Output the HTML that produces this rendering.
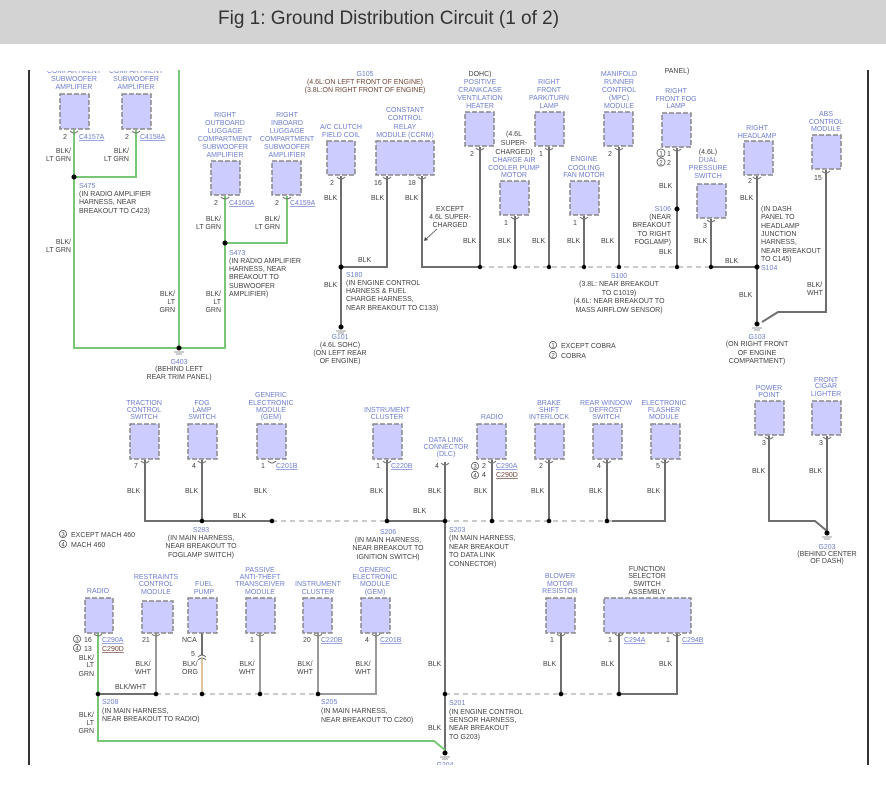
<!DOCTYPE html>
<html><head><meta charset="utf-8"><style>
body{margin:0;background:#fff;width:886px;height:790px;overflow:hidden}
svg{display:block}
text{font-family:"Liberation Sans",sans-serif;font-size:7px;fill:#444}
.c{fill:#6f7fcf}
.m{text-anchor:middle}
.e{text-anchor:end}
.u{fill:#6f7fcf;text-decoration:underline}
.bx{fill:#ccccff;stroke:#888;stroke-width:1.5;stroke-dasharray:5,2}
.w{stroke:#6e6e6e;stroke-width:2;fill:none}
.g{stroke:#77c777;stroke-width:2;fill:none}
.lw{stroke:#9a9a9a;stroke-width:2;fill:none}
.d{stroke:#aaa;stroke-width:1.2;stroke-dasharray:5,4;fill:none}
.p{stroke:#777;stroke-width:1;fill:none}
</style></head><body>
<svg width="886" height="790" viewBox="0 0 886 790">
<!-- top texts clipped -->
<text class="c m" x="74" y="73">COMPARTMENT</text>
<text class="c m" x="136" y="73">COMPARTMENT</text>
<rect x="0" y="44" width="886" height="27" fill="#fff"/>
<rect x="0" y="0" width="886" height="44" fill="#d3d3d3"/>
<text x="218" y="24" style="font-size:19px;fill:#333">Fig 1: Ground Distribution Circuit (1 of 2)</text>
<line x1="29" y1="70" x2="29" y2="765" stroke="#333" stroke-width="2"/>
<line x1="868" y1="70" x2="868" y2="765" stroke="#333" stroke-width="2"/>

<path class="g" d="M74 130V348H179M136 130V177H74M179 70V348M225 196V348H179M287 196V243H225"/>
<path class="w" d="M341 176V327M387 176V267H341M422 176V267H480M711 267H757M757 176V324M826 170V312H778L762 322"/>
<path class="d" d="M480 267H711"/>
<path class="w" d="M480 147V267M515 216V267M549 147V267M584 216V267M619 147V267M677 148V267M711 219V267"/>
<rect class="bx" x="60" y="94" width="29" height="35"/>
<rect class="bx" x="122" y="94" width="29" height="35"/>
<rect class="bx" x="211" y="161" width="29" height="34"/>
<rect class="bx" x="272" y="161" width="29" height="34"/>
<rect class="bx" x="327" y="141" width="28" height="34"/>
<rect class="bx" x="376" y="141" width="58" height="34"/>
<rect class="bx" x="465" y="112" width="29" height="34"/>
<rect class="bx" x="500" y="181" width="29" height="34"/>
<rect class="bx" x="535" y="112" width="29" height="34"/>
<rect class="bx" x="570" y="181" width="29" height="34"/>
<rect class="bx" x="604" y="112" width="29" height="34"/>
<rect class="bx" x="662" y="113" width="29" height="34"/>
<rect class="bx" x="697" y="184" width="29" height="34"/>
<rect class="bx" x="744" y="141" width="29" height="34"/>
<rect class="bx" x="812" y="135" width="29" height="34"/>
<g class="p">
<path d="M70 131q4 4 8 0M132 131q4 4 8 0M221 197q4 4 8 0M283 197q4 4 8 0M337 177q4 4 8 0M383 177q4 4 8 0M418 177q4 4 8 0M476 148q4 4 8 0M511 217q4 4 8 0M545 148q4 4 8 0M580 217q4 4 8 0M615 148q4 4 8 0M673 149q4 4 8 0M707 220q4 4 8 0M753 177q4 4 8 0M822 171q4 4 8 0"/>
</g>
<g fill="#000">
<circle cx="74" cy="177" r="2.5"/><circle cx="225" cy="243" r="2.5"/><circle cx="179" cy="348" r="2.5"/>
<circle cx="341" cy="267" r="2.5"/><circle cx="341" cy="327" r="2.5"/>
<circle cx="480" cy="267" r="2.2"/><circle cx="515" cy="267" r="2.2"/><circle cx="549" cy="267" r="2.2"/><circle cx="584" cy="267" r="2.2"/><circle cx="619" cy="267" r="2.2"/><circle cx="677" cy="267" r="2.2"/><circle cx="711" cy="267" r="2.2"/><circle cx="757" cy="267" r="2.5"/><circle cx="677" cy="209" r="2.5"/><circle cx="757" cy="324" r="2.5"/>
</g>
<g stroke="#999" stroke-width="1"><path d="M174 352h10M176 354h6M336 331h10M338 333h6M752 328h10M754 330h6"/></g>

<text class="c m" x="74" y="81">SUBWOOFER</text><text class="c m" x="74" y="89">AMPLIFIER</text>
<text class="c m" x="136" y="81">SUBWOOFER</text><text class="c m" x="136" y="89">AMPLIFIER</text>
<text x="63" y="139">2</text><text class="u" x="79" y="139">C4157A</text>
<text x="125" y="139">2</text><text class="u" x="140" y="139">C4158A</text>
<text class="e" x="71" y="153">BLK/</text><text class="e" x="71" y="161">LT GRN</text>
<text class="e" x="129" y="153">BLK/</text><text class="e" x="129" y="161">LT GRN</text>
<text class="c" x="79" y="188">S475</text><text x="79" y="196">(IN RADIO AMPLIFIER</text><text x="79" y="204">HARNESS, NEAR</text><text x="79" y="213">BREAKOUT TO C423)</text>
<text class="e" x="71" y="244">BLK/</text><text class="e" x="71" y="252">LT GRN</text>
<text class="e" x="175" y="296">BLK/</text><text class="e" x="175" y="304">LT</text><text class="e" x="175" y="312">GRN</text>
<text class="e" x="221" y="296">BLK/</text><text class="e" x="221" y="304">LT</text><text class="e" x="221" y="312">GRN</text>
<text class="c m" x="179" y="364">G403</text><text class="m" x="179" y="371">(BEHIND LEFT</text><text class="m" x="179" y="379">REAR TRIM PANEL)</text>
<text class="c m" x="225" y="117">RIGHT</text><text class="c m" x="225" y="125">OUTBOARD</text><text class="c m" x="225" y="133">LUGGAGE</text><text class="c m" x="225" y="141">COMPARTMENT</text><text class="c m" x="225" y="149">SUBWOOFER</text><text class="c m" x="225" y="157">AMPLIFIER</text>
<text class="c m" x="287" y="117">RIGHT</text><text class="c m" x="287" y="125">INBOARD</text><text class="c m" x="287" y="133">LUGGAGE</text><text class="c m" x="287" y="141">COMPARTMENT</text><text class="c m" x="287" y="149">SUBWOOFER</text><text class="c m" x="287" y="157">AMPLIFIER</text>
<text x="214" y="205">2</text><text class="u" x="229" y="205">C4160A</text>
<text x="275" y="205">2</text><text class="u" x="290" y="205">C4159A</text>
<text class="e" x="221" y="221">BLK/</text><text class="e" x="221" y="229">LT GRN</text>
<text class="e" x="280" y="221">BLK/</text><text class="e" x="280" y="229">LT GRN</text>
<text class="c" x="229" y="255">S473</text><text x="229" y="263">(IN RADIO AMPLIFIER</text><text x="229" y="271">HARNESS, NEAR</text><text x="229" y="279">BREAKOUT TO</text><text x="229" y="288">SUBWOOFER</text><text x="229" y="296">AMPLIFIER)</text>
<text class="c m" x="365" y="76">G105</text><text class="m" x="365" y="84" style="fill:#704838">(4.6L:ON LEFT FRONT OF ENGINE)</text><text class="m" x="365" y="92" style="fill:#704838">(3.8L:ON RIGHT FRONT OF ENGINE)</text>
<text class="c m" x="341" y="129">A/C CLUTCH</text><text class="c m" x="341" y="137">FIELD COIL</text>
<text class="c m" x="405" y="112">CONSTANT</text><text class="c m" x="405" y="120">CONTROL</text><text class="c m" x="405" y="129">RELAY</text><text class="c m" x="405" y="137">MODULE (CCRM)</text>
<text x="330" y="185">2</text><text x="374" y="185">16</text><text x="408" y="185">18</text>
<text x="324" y="200">BLK</text><text x="371" y="200">BLK</text><text x="405" y="200">BLK</text>
<text class="m" x="450" y="211">EXCEPT</text><text class="m" x="450" y="219">4.6L SUPER-</text><text class="m" x="450" y="227">CHARGED</text>
<path d="M437 229L425 240" stroke="#444" stroke-width="0.8"/><path d="M424 241l1-4 3 3z" fill="#444"/>
<text x="358" y="262">BLK</text><text x="324" y="287">BLK</text>
<text class="c" x="346" y="277">S180</text><text x="346" y="285">(IN ENGINE CONTROL</text><text x="346" y="293">HARNESS &amp; FUEL</text><text x="346" y="301">CHARGE HARNESS,</text><text x="346" y="310">NEAR BREAKOUT TO C133)</text>
<text class="c m" x="340" y="339">G101</text><text class="m" x="340" y="347">(4.6L SOHC)</text><text class="m" x="340" y="355">(ON LEFT REAR</text><text class="m" x="340" y="363">OF ENGINE)</text>

<text class="m" x="480" y="76">DOHC)</text><text class="c m" x="480" y="84">POSITIVE</text><text class="c m" x="480" y="92">CRANKCASE</text><text class="c m" x="480" y="100">VENTILATION</text><text class="c m" x="480" y="108">HEATER</text>
<text class="m" x="514" y="136">(4.6L</text><text class="m" x="514" y="145">SUPER-</text><text class="m" x="514" y="154">CHARGED)</text><text class="c m" x="514" y="162">CHARGE AIR</text><text class="c m" x="514" y="170">COOLER PUMP</text><text class="c m" x="514" y="177">MOTOR</text>
<text class="c m" x="549" y="84">RIGHT</text><text class="c m" x="549" y="92">FRONT</text><text class="c m" x="549" y="100">PARK/TURN</text><text class="c m" x="549" y="108">LAMP</text>
<text class="c m" x="584" y="161">ENGINE</text><text class="c m" x="584" y="170">COOLING</text><text class="c m" x="584" y="177">FAN MOTOR</text>
<text class="c m" x="619" y="76">MANIFOLD</text><text class="c m" x="619" y="84">RUNNER</text><text class="c m" x="619" y="92">CONTROL</text><text class="c m" x="619" y="100">(MPC)</text><text class="c m" x="619" y="108">MODULE</text>
<text class="m" x="677" y="73">PANEL)</text>
<text class="c m" x="676" y="93">RIGHT</text><text class="c m" x="676" y="101">FRONT FOG</text><text class="c m" x="676" y="108">LAMP</text>
<text class="m" x="708" y="154">(4.6L)</text><text class="c m" x="708" y="162">DUAL</text><text class="c m" x="708" y="170">PRESSURE</text><text class="c m" x="708" y="178">SWITCH</text>
<text class="c m" x="757" y="130">RIGHT</text><text class="c m" x="757" y="138">HEADLAMP</text>
<text class="c m" x="826" y="116">ABS</text><text class="c m" x="826" y="124">CONTROL</text><text class="c m" x="826" y="131">MODULE</text>
<text x="470" y="156">2</text><text x="539" y="156">1</text><text x="608" y="156">2</text>
<circle cx="661" cy="153" r="4" fill="none" stroke="#444" stroke-width="0.7"/><text class="m" x="661" y="155.5" style="font-size:6px">1</text><text x="667" y="156">1</text>
<circle cx="661" cy="162" r="4" fill="none" stroke="#444" stroke-width="0.7"/><text class="m" x="661" y="164.5" style="font-size:6px">2</text><text x="667" y="165">2</text>
<text x="504" y="225">1</text><text x="573" y="225">1</text><text x="703" y="228">3</text><text x="748" y="183">2</text><text x="814" y="180">15</text>
<text x="463" y="243">BLK</text><text x="498" y="243">BLK</text><text x="532" y="243">BLK</text><text x="567" y="243">BLK</text><text x="601" y="243">BLK</text><text x="659" y="188">BLK</text><text x="659" y="254">BLK</text><text x="694" y="243">BLK</text><text x="725" y="263">BLK</text><text x="740" y="200">BLK</text><text x="739" y="297">BLK</text>
<text class="c e" x="671" y="211">S106</text><text class="e" x="671" y="219">(NEAR</text><text class="e" x="671" y="227">BREAKOUT</text><text class="e" x="671" y="236">TO RIGHT</text><text class="e" x="671" y="244">FOGLAMP)</text>
<text x="761" y="211">(IN DASH</text><text x="761" y="219">PANEL TO</text><text x="761" y="228">HEADLAMP</text><text x="761" y="236">JUNCTION</text><text x="761" y="244">HARNESS,</text><text x="761" y="253">NEAR BREAKOUT</text><text x="761" y="261">TO C145)</text><text class="c" x="761" y="270">S104</text>
<text x="807" y="287">BLK/</text><text x="807" y="295">WHT</text>
<text class="c m" x="619" y="278">S100</text><text class="m" x="619" y="286">(3.8L: NEAR BREAKOUT</text><text class="m" x="619" y="295">TO C1019)</text><text class="m" x="619" y="303">(4.6L: NEAR BREAKOUT TO</text><text class="m" x="619" y="312">MASS AIRFLOW SENSOR)</text>
<text class="c m" x="757" y="339">G103</text><text class="m" x="757" y="346">(ON RIGHT FRONT</text><text class="m" x="757" y="355">OF ENGINE</text><text class="m" x="757" y="363">COMPARTMENT)</text>
<circle cx="553" cy="345" r="3.6" fill="none" stroke="#444" stroke-width="0.7"/><text class="m" x="553" y="347.5" style="font-size:6px">1</text><text x="561" y="348">EXCEPT COBRA</text>
<circle cx="553" cy="355" r="3.6" fill="none" stroke="#444" stroke-width="0.7"/><text class="m" x="553" y="357.5" style="font-size:6px">2</text><text x="561" y="358">COBRA</text>

<path class="w" d="M145 460V521H272M387 460V521H445M612 521H665V460M202 460V521M492 460V521M549 460V521M607 460V521M445 462V753M769 436V521H815L827 531M827 436V533"/>
<path class="d" d="M272 521H387M445 521H612"/>
<rect class="bx" x="130" y="424" width="29" height="35"/>
<rect class="bx" x="188" y="424" width="29" height="35"/>
<rect class="bx" x="257" y="424" width="29" height="35"/>
<rect class="bx" x="373" y="424" width="29" height="35"/>
<rect class="bx" x="477" y="424" width="29" height="35"/>
<rect class="bx" x="535" y="424" width="29" height="35"/>
<rect class="bx" x="593" y="424" width="29" height="35"/>
<rect class="bx" x="651" y="424" width="29" height="35"/>
<rect class="bx" x="755" y="401" width="29" height="34"/>
<rect class="bx" x="812" y="401" width="29" height="34"/>
<g class="p"><path d="M141 461q4 4 8 0M198 461q4 4 8 0M268 461q4 4 8 0M383 461q4 4 8 0M441 463q4 4 8 0M488 461q4 4 8 0M545 461q4 4 8 0M603 461q4 4 8 0M661 461q4 4 8 0M765 437q4 4 8 0M823 437q4 4 8 0"/></g>
<g fill="#000"><circle cx="202" cy="521" r="2.3"/><circle cx="272" cy="521" r="2.3"/><circle cx="387" cy="521" r="2.3"/><circle cx="445" cy="521" r="2.3"/><circle cx="492" cy="521" r="2.3"/><circle cx="549" cy="521" r="2.3"/><circle cx="607" cy="521" r="2.3"/><circle cx="827" cy="533" r="2.5"/></g>
<path d="M822 537h10M824 539h6" stroke="#999"/>
<text class="c m" x="144" y="405">TRACTION</text><text class="c m" x="144" y="412">CONTROL</text><text class="c m" x="144" y="419">SWITCH</text>
<text class="c m" x="202" y="405">FOG</text><text class="c m" x="202" y="412">LAMP</text><text class="c m" x="202" y="419">SWITCH</text>
<text class="c m" x="271" y="397">GENERIC</text><text class="c m" x="271" y="405">ELECTRONIC</text><text class="c m" x="271" y="412">MODULE</text><text class="c m" x="271" y="419">(GEM)</text>
<text class="c m" x="387" y="412">INSTRUMENT</text><text class="c m" x="387" y="419">CLUSTER</text>
<text class="c m" x="446" y="442">DATA LINK</text><text class="c m" x="446" y="449">CONNECTOR</text><text class="c m" x="446" y="456">(DLC)</text>
<text class="c m" x="492" y="419">RADIO</text>
<text class="c m" x="549" y="405">BRAKE</text><text class="c m" x="549" y="412">SHIFT</text><text class="c m" x="549" y="419">INTERLOCK</text>
<text class="c m" x="606" y="405">REAR WINDOW</text><text class="c m" x="606" y="412">DEFROST</text><text class="c m" x="606" y="419">SWITCH</text>
<text class="c m" x="664" y="405">ELECTRONIC</text><text class="c m" x="664" y="412">FLASHER</text><text class="c m" x="664" y="419">MODULE</text>
<text class="c m" x="769" y="390">POWER</text><text class="c m" x="769" y="397">POINT</text>
<text class="c m" x="826" y="382">FRONT</text><text class="c m" x="826" y="388">CIGAR</text><text class="c m" x="826" y="396">LIGHTER</text>
<text x="134" y="468">7</text><text x="192" y="468">4</text><text x="261" y="468">1</text><text class="u" x="276" y="468">C201B</text><text x="376" y="468">1</text><text class="u" x="391" y="468">C220B</text><text x="435" y="468">4</text>
<circle cx="475" cy="466" r="3.6" fill="none" stroke="#444" stroke-width="0.7"/><text class="m" x="475" y="468.5" style="font-size:6px">3</text><text x="482" y="468">2</text><text class="u" x="496" y="468">C290A</text>
<circle cx="475" cy="475" r="3.6" fill="none" stroke="#444" stroke-width="0.7"/><text class="m" x="475" y="477.5" style="font-size:6px">4</text><text x="482" y="477">4</text><text x="496" y="477" style="text-decoration:underline;fill:#704838">C290D</text>
<text x="539" y="468">2</text><text x="597" y="468">4</text><text x="656" y="468">5</text><text x="762" y="445">3</text><text x="819" y="445">3</text>
<text x="127" y="493">BLK</text><text x="185" y="493">BLK</text><text x="254" y="493">BLK</text><text x="370" y="493">BLK</text><text x="428" y="493">BLK</text><text x="474" y="493">BLK</text><text x="531" y="493">BLK</text><text x="589" y="493">BLK</text><text x="647" y="493">BLK</text><text x="752" y="473">BLK</text><text x="809" y="473">BLK</text>
<text x="233" y="518">BLK</text><text x="413" y="513">BLK</text>
<text class="c m" x="201" y="532">S283</text><text class="m" x="201" y="540">(IN MAIN HARNESS,</text><text class="m" x="201" y="548">NEAR BREAKOUT TO</text><text class="m" x="201" y="557">FOGLAMP SWITCH)</text>
<text class="c m" x="388" y="534">S206</text><text class="m" x="388" y="542">(IN MAIN HARNESS,</text><text class="m" x="388" y="550">NEAR BREAKOUT TO</text><text class="m" x="388" y="559">IGNITION SWITCH)</text>
<text class="c" x="449" y="532">S203</text><text x="449" y="540">(IN MAIN HARNESS,</text><text x="449" y="549">NEAR BREAKOUT</text><text x="449" y="557">TO DATA LINK</text><text x="449" y="566">CONNECTOR)</text>
<text class="c m" x="827" y="549">G203</text><text class="m" x="827" y="556">(BEHIND CENTER</text><text class="m" x="827" y="563">OF DASH)</text>
<circle cx="63" cy="534" r="3.6" fill="none" stroke="#444" stroke-width="0.7"/><text class="m" x="63" y="536.5" style="font-size:6px">3</text><text x="71" y="537">EXCEPT MACH 460</text>
<circle cx="63" cy="544" r="3.6" fill="none" stroke="#444" stroke-width="0.7"/><text class="m" x="63" y="546.5" style="font-size:6px">4</text><text x="71" y="547">MACH 460</text>

<path class="g" d="M98 633V741H434L445 750"/>
<path class="w" d="M98 694H156M202 633V655"/>
<path d="M202 659V694" stroke="#e0c4a0" stroke-width="2"/>
<path d="M198 657q4 -4 8 0M198 660q4 -4 8 0" stroke="#444" fill="none" stroke-width="0.8"/>
<path class="lw" d="M156 633V694M260 633V694M318 633V694H376V633"/>
<path class="w" d="M561 633V694M619 633V694H677V633"/>
<path class="d" d="M156 694H318M445 694H619"/>
<rect class="bx" x="85" y="598" width="28" height="35"/>
<rect class="bx" x="142" y="601" width="31" height="32"/>
<rect class="bx" x="188" y="598" width="29" height="35"/>
<rect class="bx" x="246" y="598" width="29" height="35"/>
<rect class="bx" x="303" y="598" width="29" height="35"/>
<rect class="bx" x="361" y="598" width="29" height="35"/>
<rect class="bx" x="546" y="598" width="29" height="35"/>
<rect class="bx" x="604" y="598" width="87" height="35"/>
<g class="p"><path d="M94 634q4 4 8 0M152 634q4 4 8 0M256 634q4 4 8 0M314 634q4 4 8 0M372 634q4 4 8 0M557 634q4 4 8 0M615 634q4 4 8 0M673 634q4 4 8 0"/></g>
<g fill="#000"><circle cx="98" cy="694" r="2.3"/><circle cx="156" cy="694" r="2.3"/><circle cx="202" cy="694" r="2.3"/><circle cx="260" cy="694" r="2.3"/><circle cx="318" cy="694" r="2.3"/><circle cx="445" cy="694" r="2.3"/><circle cx="561" cy="694" r="2.3"/><circle cx="619" cy="694" r="2.3"/><circle cx="445" cy="753" r="2.5"/></g>
<path d="M440 757h10M442 759h6" stroke="#999"/>
<text class="c m" x="98" y="593">RADIO</text>
<text class="c m" x="156" y="579">RESTRAINTS</text><text class="c m" x="156" y="586">CONTROL</text><text class="c m" x="156" y="594">MODULE</text>
<text class="c m" x="204" y="586">FUEL</text><text class="c m" x="204" y="594">PUMP</text>
<text class="c m" x="260" y="572">PASSIVE</text><text class="c m" x="260" y="579">ANTI-THEFT</text><text class="c m" x="260" y="586">TRANSCEIVER</text><text class="c m" x="260" y="594">MODULE</text>
<text class="c m" x="318" y="586">INSTRUMENT</text><text class="c m" x="318" y="594">CLUSTER</text>
<text class="c m" x="375" y="572">GENERIC</text><text class="c m" x="375" y="579">ELECTRONIC</text><text class="c m" x="375" y="586">MODULE</text><text class="c m" x="375" y="594">(GEM)</text>
<text class="c m" x="560" y="578">BLOWER</text><text class="c m" x="560" y="586">MOTOR</text><text class="c m" x="560" y="593">RESISTOR</text>
<text class="m" x="647" y="571">FUNCTION</text><text class="m" x="647" y="578">SELECTOR</text><text class="m" x="647" y="586">SWITCH</text><text class="m" x="647" y="594">ASSEMBLY</text>
<circle cx="77" cy="639" r="3.6" fill="none" stroke="#444" stroke-width="0.7"/><text class="m" x="77" y="641.5" style="font-size:6px">3</text><text x="84" y="642">16</text><text class="u" x="102" y="642">C290A</text>
<circle cx="77" cy="648" r="3.6" fill="none" stroke="#444" stroke-width="0.7"/><text class="m" x="77" y="650.5" style="font-size:6px">4</text><text x="84" y="651">13</text><text x="102" y="651" style="text-decoration:underline;fill:#704838">C290D</text>
<text x="142" y="642">21</text><text x="182" y="642">NCA</text><text x="250" y="642">1</text><text x="303" y="642">20</text><text class="u" x="321" y="642">C220B</text><text x="365" y="642">4</text><text class="u" x="380" y="642">C201B</text>
<text x="550" y="642">1</text><text x="608" y="642">1</text><text class="u" x="624" y="642">C294A</text><text x="666" y="642">1</text><text class="u" x="682" y="642">C294B</text>
<text x="191" y="656">5</text>
<text class="e" x="94" y="660">BLK/</text><text class="e" x="94" y="667">LT</text><text class="e" x="94" y="676">GRN</text>
<text class="m" x="143" y="666">BLK/</text><text class="m" x="143" y="674">WHT</text>
<text class="m" x="190" y="666">BLK/</text><text class="m" x="190" y="674">ORG</text>
<text class="m" x="247" y="666">BLK/</text><text class="m" x="247" y="674">WHT</text>
<text class="m" x="305" y="666">BLK/</text><text class="m" x="305" y="674">WHT</text>
<text class="m" x="363" y="666">BLK/</text><text class="m" x="363" y="674">WHT</text>
<text x="115" y="689">BLK/WHT</text>
<text x="428" y="666">BLK</text><text x="543" y="666">BLK</text><text x="601" y="666">BLK</text><text x="659" y="666">BLK</text>
<text class="c" x="102" y="704">S208</text><text x="102" y="713">(IN MAIN HARNESS,</text><text x="102" y="721">NEAR BREAKOUT TO RADIO)</text>
<text class="e" x="94" y="717">BLK/</text><text class="e" x="94" y="725">LT</text><text class="e" x="94" y="733">GRN</text>
<text class="c" x="321" y="704">S205</text><text x="321" y="713">(IN MAIN HARNESS,</text><text x="321" y="722">NEAR BREAKOUT TO C260)</text>
<text class="c" x="449" y="705">S201</text><text x="449" y="714">(IN ENGINE CONTROL</text><text x="449" y="722">SENSOR HARNESS,</text><text x="449" y="730">NEAR BREAKOUT</text><text x="449" y="739">TO G203)</text>
<text x="428" y="730">BLK</text>
<text class="c m" x="445" y="767">G204</text>
<rect x="0" y="765" width="886" height="25" fill="#fff"/>
</svg>
</body></html>
